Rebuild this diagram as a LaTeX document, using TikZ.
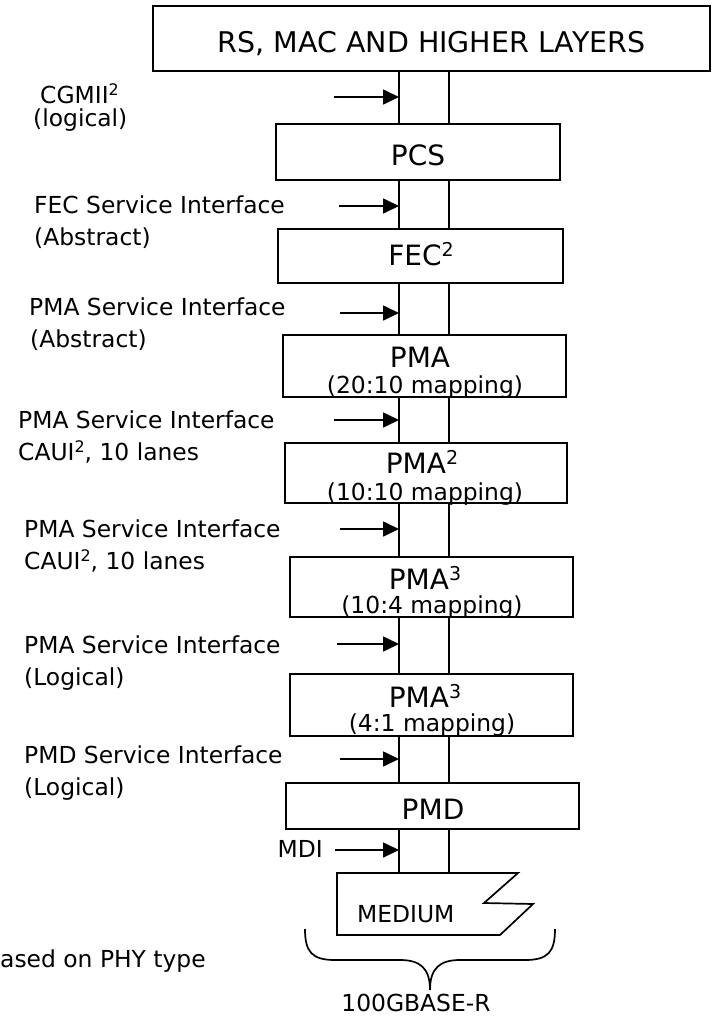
\documentclass[tikz,border=0pt]{standalone}
\usepackage{fontspec}
\setmainfont{DejaVu Sans}
\usetikzlibrary{arrows.meta}
\newcommand{\sups}[1]{\raisebox{0.3em}{\scalebox{0.68}{#1}}}
\begin{document}
\begin{tikzpicture}[x=1bp,y=-1bp,
  box/.style={draw, line width=1.8bp, fill=white, inner sep=0pt},
  lbl/.style={font=\fontsize{23.4bp}{28bp}\selectfont, inner sep=0pt, anchor=base west},
  ttl/.style={font=\fontsize{28bp}{32bp}\selectfont, inner sep=0pt, anchor=base},
  sub/.style={font=\fontsize{23.4bp}{28bp}\selectfont, inner sep=0pt, anchor=base},
  wire/.style={line width=1.7bp},
  arr/.style={line width=1.7bp, -{Triangle[length=16bp,width=15bp]}},
]
\useasboundingbox[fill=white] (0,0) rectangle (712,1017);

% boxes
\node[box, minimum width=557bp, minimum height=65bp] (top) at (431.5,38.5) {};
\node[box, minimum width=284bp, minimum height=56bp] (pcs) at (418,152) {};
\node[box, minimum width=285bp, minimum height=54bp] (fec) at (420.5,256) {};
\node[box, minimum width=283bp, minimum height=62bp] (pma1) at (424.5,366) {};
\node[box, minimum width=282bp, minimum height=60bp] (pma2) at (426,473) {};
\node[box, minimum width=283bp, minimum height=60bp] (pma3) at (431.5,587) {};
\node[box, minimum width=283bp, minimum height=62bp] (pma4) at (431.5,705) {};
\node[box, minimum width=293bp, minimum height=46bp] (pmd) at (432.5,806) {};

% medium shape
\coordinate (medtop) at (337,873);
\draw[wire, line join=miter] (medtop) -- (518,873) -- (484,903) -- (533,904) -- (500,935) -- (337,935) -- cycle;
\node[lbl] (medium) at (357,922) {MEDIUM};

% vertical pair of lines
\coordinate (L) at (399,0);
\coordinate (R) at (449,0);
\foreach \a/\b in {top/pcs, pcs/fec, fec/pma1, pma1/pma2, pma2/pma3, pma3/pma4, pma4/pmd} {
  \draw[wire] (\a.south -| L) -- (\b.north -| L);
  \draw[wire] (\a.south -| R) -- (\b.north -| R);
}
\draw[wire] (pmd.south -| L) -- (medtop -| L);
\draw[wire] (pmd.south -| R) -- (medtop -| R);

% box texts
\node[ttl, font=\fontsize{28.5bp}{32bp}\selectfont] (t0) at (431.5,52) {RS, MAC AND HIGHER LAYERS};
\node[ttl] (t1) at (418,165) {PCS};
\node[ttl] (t2) at (421,265) {FEC\sups{2}};
\node[ttl] (t3) at (420,367) {PMA};
\node[sub] (m3) at (425,393) {(20:10 mapping)};
\node[ttl] (t4) at (422,473) {PMA\sups{2}};
\node[sub] (m4) at (425,500) {(10:10 mapping)};
\node[ttl] (t5) at (425,589) {PMA\sups{3}};
\node[sub] (m5) at (432,613) {(10:4 mapping)};
\node[ttl] (t6) at (425,707) {PMA\sups{3}};
\node[sub] (m6) at (432,731) {(4:1 mapping)};
\node[ttl] (t7) at (433,819) {PMD};

% arrows
\coordinate (a1) at (334,97);
\coordinate (a2) at (339,206);
\coordinate (a3) at (340,313);
\coordinate (a4) at (334,420);
\coordinate (a5) at (340,529);
\coordinate (a6) at (337,644);
\coordinate (a7) at (340,759);
\coordinate (a8) at (335,850);
\foreach \p in {a1,a2,a3,a4,a5,a6,a7,a8} {
  \draw[arr] (\p) -- (\p -| L);
}

% labels
\node[lbl] (l1a) at (40,103) {CGMII\sups{2}};
\node[lbl] (l1b) at (33,126) {(logical)};
\node[lbl] (l2a) at (34,213) {FEC Service Interface};
\node[lbl] (l2b) at (34,245) {(Abstract)};
\node[lbl] (l3a) at (29,315) {PMA Service Interface};
\node[lbl] (l3b) at (30,347) {(Abstract)};
\node[lbl] (l4a) at (18,428) {PMA Service Interface};
\node[lbl] (l4b) at (18,460) {CAUI\sups{2}, 10 lanes};
\node[lbl] (l5a) at (24,537) {PMA Service Interface};
\node[lbl] (l5b) at (24,569) {CAUI\sups{2}, 10 lanes};
\node[lbl] (l6a) at (24,653) {PMA Service Interface};
\node[lbl] (l6b) at (24,685) {(Logical)};
\node[lbl] (l7a) at (24,763) {PMD Service Interface};
\node[lbl] (l7b) at (24,795) {(Logical)};
\node[lbl, anchor=base east] (mdi) at (323,857) {MDI};
\node[lbl] (phy) at (0,967) {ased on PHY type};

% brace
\draw[wire] (305,929) .. controls (305,952) and (312,960) .. (335,960) -- (400,960)
  .. controls (420,960) and (430,968) .. (430,990)
  .. controls (430,968) and (440,960) .. (460,960) -- (525,960)
  .. controls (548,960) and (555,952) .. (555,929);
\node[sub] (phyname) at (416,1011) {100GBASE-R};
\end{tikzpicture}
\end{document}
